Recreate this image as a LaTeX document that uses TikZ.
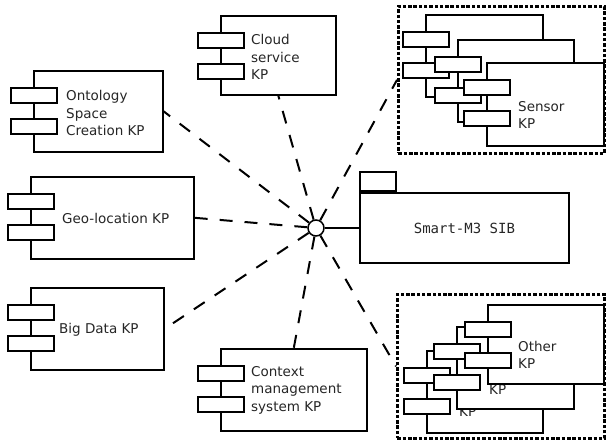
\documentclass[tikz,border=0pt]{standalone}
\usepackage{fontspec}
\setmainfont{DejaVu Sans}
\newfontfamily\sibmono{DejaVu Sans Mono}
\usetikzlibrary{calc}

\tikzset{
  kpbody/.style={draw, line width=1.6pt, fill=white, inner sep=0pt, anchor=north west},
  kptab/.style={draw, line width=2.2pt, fill=white, minimum width=46pt,
    minimum height=15pt, inner sep=0pt, anchor=north west},
  kplabel/.style={anchor=west, align=left, inner sep=0pt,
    font=\fontsize{13.5}{17.5}\selectfont, text=black!85},
  groupbox/.style={draw, line width=2.8pt, dash pattern=on 3.5pt off 1.8pt,
    inner sep=0pt, anchor=north west},
  link/.style={line width=2pt, dash pattern=on 13pt off 12pt},
}

% component: name, left x, top y, width, height
\newcommand\kpcomp[5]{%
  \node[kpbody, minimum width=#4pt, minimum height=#5pt] (#1) at (#2,#3) {};
  \node[kptab] (#1-a) at ($(#1.north west)+(-23,17)$) {};
  \node[kptab] (#1-b) at ($(#1.north west)+(-23,48)$) {};
}

\begin{document}
\begin{tikzpicture}[x=1pt, y=-1pt]
\useasboundingbox (0,0) rectangle (606,440);

% single knowledge processors
\kpcomp{ont}{33}{70}{129}{81}
\node[kplabel] at (66,113) {Ontology\\Space\\Creation KP};

\kpcomp{cloud}{220}{15}{115}{79}
\node[kplabel] at (251,57) {Cloud\\service\\KP};

\kpcomp{geo}{30}{176}{163}{82}
\node[kplabel] at (62,218) {Geo-location KP};

\kpcomp{big}{30}{287}{133}{82}
\node[kplabel] at (59,330) {Big Data KP};

\kpcomp{ctx}{220}{348}{146}{82}
\node[kplabel] at (251,390) {Context\\management\\system KP};

% group of sensor KPs
\node[groupbox, minimum width=206pt, minimum height=147pt] (sens) at (397,5) {};
\kpcomp{sensA}{425}{14}{117}{82}
\kpcomp{sensB}{457}{39}{116}{82}
\kpcomp{sensC}{486}{62}{117}{83}
\node[kplabel] at (518,115) {Sensor\\KP};

% group of other KPs
\node[groupbox, minimum width=207pt, minimum height=144pt] (oth) at (396,293) {};
\kpcomp{othA}{426}{350}{116}{82}
\node[kplabel] at (459,412) {KP};
\kpcomp{othB}{456}{326}{117}{82}
\node[kplabel] at (489,390) {KP};
\kpcomp{othC}{487}{304}{116}{79}
\node[kplabel] at (518,355) {Other\\KP};

% semantic information broker
\node[draw, line width=1.8pt, fill=white, inner sep=0pt, anchor=north west,
  minimum width=209pt, minimum height=70pt,
  font=\sibmono\fontsize{14}{16}\selectfont, text=black!85] (sib) at (359,192) {Smart-M3 SIB};
\node[draw, line width=1.8pt, fill=white, inner sep=0pt, anchor=south west,
  minimum width=36pt, minimum height=19pt] (sibtab) at (sib.north west) {};

% interface of the broker
\node[circle, draw, line width=1.5pt, fill=white, minimum size=16pt, inner sep=0pt] (hub) at (316,228) {};
\draw[line width=1.8pt] (hub) -- (sib.west |- hub);

% connections of the KPs to the interface
\draw[link] (hub) -- (ont.east);
\draw[link] (hub) -- (cloud.south);
\draw[link] (hub) -- (sens.west);
\draw[link] (hub) -- (geo.east);
\draw[link] (hub) -- (big.east);
\draw[link] (hub) -- (ctx.north);
\draw[link] (hub) -- (oth.west);
\end{tikzpicture}
\end{document}
